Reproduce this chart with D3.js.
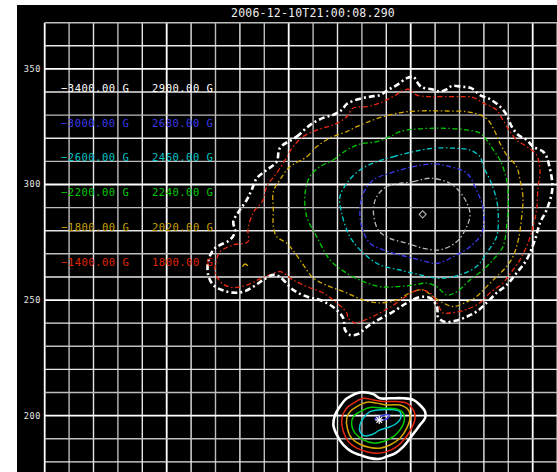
<!DOCTYPE html>
<html>
<head>
<meta charset="utf-8">
<script src="https://cdn.jsdelivr.net/npm/d3@7"></script>
<style>
body { margin: 0; background: #fff; }
text { font-family: "DejaVu Sans Mono", "Liberation Mono", monospace; }
</style>
</head>
<body>
<svg id="chart" width="557" height="472"></svg>
<script>
// ---- data ----
const title = "2006-12-10T21:00:08.290"
const yTicks = [350, 300, 250, 200]
const negLevels = [-3400, -3000, -2600, -2200, -1800, -1400]
const posLevels = [2900, 2680, 2460, 2240, 2020, 1800]

// big (negative) spot, outer boundary
const bigOuter = [[96.4,315.8],[103.3,320.7],[108.7,325.7],[114.1,328.8],[118.2,330.1],[121.7,332.2],[123.8,334.8],[128.4,336.9],[133.3,338.0],[137.4,338.7],[140.7,340.9],[144.3,343.0],[148.4,346.0],[151.1,346.6],[152.5,344.5],[154.5,342.1],[158.6,341.2],[162.0,340.2],[164.8,341.2],[166.8,342.6],[170.9,342.3],[175.0,341.6],[178.4,338.7],[182.5,336.9],[186.6,333.7],[189.3,330.1],[191.4,325.0],[194.1,321.4],[197.5,319.3],[200.2,316.4],[204.3,314.2],[205.7,312.0],[206.7,308.4],[207.9,302.0],[207.9,296.8],[205.7,289.0],[203.0,283.4],[200.9,276.0],[197.5,267.4],[193.4,261.7],[189.3,256.5],[185.2,253.1],[181.1,248.8],[177.0,245.0],[173.0,242.8],[168.2,241.0],[164.1,240.5],[161.2,242.7],[160.8,247.0],[157.9,250.9],[153.8,251.3],[148.5,248.8],[142.7,244.9],[136.6,241.4],[132.1,238.4],[128.4,235.3],[125.1,234.9],[123.1,237.1],[122.3,242.3],[118.2,247.0],[112.8,250.0],[107.4,251.5],[101.8,254.4],[96.4,260.0],[93.7,260.9],[89.6,258.7],[85.5,255.8],[81.4,253.6],[77.3,253.2],[73.2,254.1],[69.1,256.5],[67.0,260.9],[67.0,266.6],[69.1,271.7],[71.8,273.8],[75.9,276.0],[78.0,279.6],[77.3,283.9],[80.0,289.0],[82.8,293.3],[84.8,297.6],[86.9,302.7],[91.0,306.3],[95.1,309.9]]

// big spot level contours, order follows negLevels
const bigW = [[140.2,299.1],[151.1,301.2],[157.9,302.7],[166.1,300.5],[171.6,294.7],[174.3,287.6],[173.0,281.8],[168.9,275.3],[162.0,271.7],[155.2,272.4],[148.4,274.6],[141.5,276.7],[136.7,280.3],[134.7,289.0],[136.1,294.7]]
const bigB = [[134.7,302.0],[141.5,304.9],[151.1,307.7],[159.3,308.9],[166.1,307.7],[173.0,304.9],[177.0,297.6],[179.8,289.0],[179.1,278.9],[174.3,273.1],[167.5,268.8],[160.7,265.9],[153.8,267.4],[145.6,269.5],[138.8,271.7],[133.3,274.6],[129.9,281.8],[129.2,289.0],[130.6,296.2]]
const bigC = [[136.1,309.9],[142.9,312.0],[151.1,314.2],[159.3,315.7],[167.5,315.7],[174.3,314.9],[178.4,312.0],[179.8,307.7],[182.5,302.0],[185.2,293.3],[185.9,286.1],[185.2,277.4],[181.1,270.3],[177.0,264.5],[170.2,260.9],[162.0,259.4],[153.8,260.9],[145.6,263.0],[137.4,265.2],[130.6,270.3],[125.1,277.4],[121.7,287.6],[121.0,294.7],[123.8,300.5],[129.2,306.3]]
const bigG = [[112.8,307.7],[118.2,310.6],[123.8,314.9],[129.2,317.5],[136.1,318.5],[141.5,320.7],[145.6,322.9],[151.1,323.9],[157.9,324.3],[164.8,324.3],[173.0,323.6],[178.4,322.2],[181.1,319.3],[183.9,314.9],[186.6,310.6],[189.3,302.0],[190.0,293.3],[189.3,281.8],[187.8,273.1],[183.7,267.4],[179.6,263.0],[174.3,258.7],[168.9,253.6],[164.8,252.2],[160.7,255.8],[156.6,257.3],[151.1,256.5],[144.3,255.8],[137.4,255.8],[130.6,258.0],[123.8,261.6],[116.9,267.4],[111.5,277.4],[107.4,286.1],[106.7,296.2],[108.7,303.4]]
const bigY = [[100.5,307.7],[107.4,312.0],[111.5,316.4],[116.9,320.1],[123.8,322.9],[127.9,325.0],[134.5,327.9],[141.5,330.1],[148.4,331.5],[156.6,331.9],[164.8,331.8],[173.0,331.5],[178.4,330.1],[181.7,327.9],[184.5,322.9],[186.6,317.8],[189.3,312.8],[193.4,307.7],[194.8,302.0],[196.0,294.7],[195.5,286.1],[194.1,276.0],[191.9,268.8],[189.3,264.5],[185.2,260.1],[181.1,255.8],[177.0,251.5],[172.3,248.8],[167.3,247.2],[163.2,248.8],[159.1,251.5],[155.0,254.4],[149.7,253.1],[144.3,250.0],[137.4,248.8],[130.5,250.0],[123.8,253.1],[116.9,255.8],[110.0,259.6],[104.6,267.4],[99.2,274.6],[95.1,277.4],[93.7,281.8],[93.7,289.0],[93.7,296.9],[96.4,302.0]]
const bigR = [[101.8,316.4],[105.9,320.7],[110.0,322.9],[114.1,324.5],[118.2,325.7],[123.8,329.3],[126.4,333.1],[132.0,333.7],[137.4,335.3],[142.7,338.0],[148.9,341.2],[152.5,338.7],[157.9,338.0],[163.2,338.0],[170.2,338.0],[175.5,337.7],[179.6,335.3],[185.2,332.2],[187.8,327.9],[190.7,322.9],[193.4,319.3],[197.5,316.4],[201.6,312.8],[203.0,304.9],[202.2,299.1],[201.6,289.0],[200.1,281.8],[198.1,274.7],[194.8,267.4],[191.9,263.0],[187.8,257.4],[182.5,253.1],[178.4,248.8],[172.3,245.7],[166.1,244.4],[163.2,244.4],[161.2,247.9],[157.9,253.1],[153.0,254.4],[147.7,251.3],[142.3,247.4],[136.6,244.0],[131.3,241.4],[127.2,240.1],[124.3,242.3],[123.8,244.4],[119.7,248.8],[114.1,253.1],[107.4,255.8],[101.8,258.7],[96.4,262.3],[92.3,260.9],[87.4,258.7],[82.8,256.5],[77.2,255.4],[72.5,257.4],[69.8,262.3],[70.5,267.4],[71.8,270.9],[77.2,273.8],[83.3,275.3],[83.3,280.3],[85.4,287.7],[89.5,293.3],[91.0,299.1],[95.1,305.0],[98.5,310.6]]
const bigYBlob = [[81.0,264.4],[82.1,265.6],[83.3,264.8]]
const bigCenter = [154.9, 287.1]

// small (positive) spot, outer boundary and level contours
const smOuter = [[123.1,206.8],[125.1,208.2],[127.9,209.7],[130.6,210.1],[134.7,209.3],[137.4,207.5],[141.5,207.5],[147.0,207.5],[151.1,206.8],[153.8,204.6],[155.9,201.7],[155.9,198.9],[153.8,196.0],[151.8,193.1],[149.7,190.2],[147.0,186.6],[143.6,183.7],[140.2,182.3],[137.4,181.3],[133.3,181.6],[129.2,183.0],[125.8,184.4],[122.4,187.3],[119.7,191.7],[118.3,196.0],[119.0,200.3],[121.0,203.9]]
const smB = [[135.4,198.6],[138.2,199.9],[141.1,200.3],[140.7,199.0],[137.8,198.1]]
const smC = [[129.2,196.0],[130.6,198.9],[133.3,201.7],[137.4,202.5],[142.9,202.5],[145.6,201.7],[145.9,198.9],[144.3,196.7],[141.5,195.2],[137.4,193.8],[134.0,191.7],[130.6,191.4],[129.2,193.1]]
const smG = [[126.5,199.6],[129.2,201.7],[133.3,203.5],[138.8,203.2],[144.3,202.9],[147.0,201.0],[147.3,197.4],[145.6,193.8],[142.9,190.9],[138.8,188.8],[134.7,188.1],[130.6,189.5],[127.2,192.4],[125.8,196.0]]
const smY = [[125.1,201.7],[127.9,203.9],[132.0,205.8],[136.1,205.4],[140.2,204.6],[145.6,204.6],[149.0,202.5],[149.7,198.9],[148.4,194.6],[145.6,190.2],[141.5,187.3],[137.4,185.9],[133.3,186.2],[129.2,187.6],[125.8,190.2],[124.0,194.6],[123.8,198.9]]
const smR = [[124.4,203.9],[126.5,205.4],[130.6,207.5],[134.7,206.8],[138.8,206.1],[144.3,206.1],[148.4,205.4],[151.1,202.5],[151.8,198.9],[150.4,194.6],[147.7,190.2],[144.3,186.6],[140.2,184.4],[136.1,183.7],[132.0,184.4],[127.9,185.9],[124.4,188.8],[122.4,193.1],[121.7,197.4],[122.4,201.0]]
const smCenter = [137.1, 198.1]

const bigLevels = [bigW, bigB, bigC, bigG, bigY, bigR]
const smLevels = [null, smB, smC, smG, smY, smR]

// ---- style ----
const levelColors = ['#ffffff', '#3c3cf4', '#00ccd0', '#00cc00', '#d4a800', '#e8280e']
const textColors = ['#ffffff', '#3a3ae8', '#00c4c4', '#00c800', '#c8a000', '#e02400']
const legendX = [61, 152]
const legendY0 = 92, legendDy = 34.7

const svg = d3.select('#chart')

// black panel
svg.append('rect').attr('x', 17).attr('y', 5).attr('width', 540).attr('height', 467).attr('fill', '#000')

const x = d3.scaleLinear().domain([0, 210]).range([44.7, 557.1])
const y = d3.scaleLinear().domain([370, 175.6]).range([22.7, 472])

// grid
const grid = svg.append('g')
for (let v of d3.range(0, 211, 10)) {
	let major = v % 50 == 0
	grid.append('line')
		.attr('x1', x(v)).attr('x2', x(v)).attr('y1', y(370)).attr('y2', 472)
		.attr('stroke', major ? '#ffffff' : ((v / 10) % 2 ? '#bdbdbd' : '#e6e6e6'))
		.attr('stroke-width', major ? 1.8 : 1.4)
}
for (let v of d3.range(180, 371, 10)) {
	let major = v % 50 == 0
	grid.append('line')
		.attr('x1', x(0)).attr('x2', 557).attr('y1', y(v)).attr('y2', y(v))
		.attr('stroke', major ? '#ffffff' : ((v / 10) % 2 ? '#bdbdbd' : '#e6e6e6'))
		.attr('stroke-width', major ? 1.8 : 1.4)
}

// y tick labels
svg.append('g').selectAll('text').data(yTicks).join('text')
	.attr('x', 41).attr('y', d => y(d) + 3)
	.attr('text-anchor', 'end')
	.attr('fill', '#e8e8e8')
	.attr('font-size', 8.5).attr('letter-spacing', 0.6)
	.text(d => d)

// title
svg.append('text')
	.attr('x', 313).attr('y', 16.5)
	.attr('text-anchor', 'middle')
	.attr('fill', '#eeeeee')
	.attr('font-size', 11.5).attr('letter-spacing', 0.2)
	.text(title)

// contours
const line = d3.line().x(d => x(d[0])).y(d => y(d[1])).curve(d3.curveCatmullRomClosed.alpha(0.5))
const openLine = d3.line().x(d => x(d[0])).y(d => y(d[1])).curve(d3.curveCatmullRom)
const dashDot = '5,2.5,1.5,2.5'
const cg = svg.append('g').attr('fill', 'none')

bigLevels.forEach((c, i) => {
	cg.append('path').attr('d', line(c))
		.attr('stroke', i == 0 ? '#b8b8b8' : levelColors[i])
		.attr('stroke-width', 1.3)
		.attr('stroke-dasharray', dashDot)
})
cg.append('path').attr('d', openLine(bigYBlob))
	.attr('stroke', levelColors[4]).attr('stroke-width', 1.3)
cg.append('path').attr('d', line(bigOuter))
	.attr('stroke', '#ffffff').attr('stroke-width', 2.6)
	.attr('stroke-dasharray', '6,3,2,3')

smLevels.forEach((c, i) => {
	if (!c) return
	cg.append('path').attr('d', line(c))
		.attr('stroke', levelColors[i]).attr('stroke-width', 1.5)
})
cg.append('path').attr('d', line(smOuter))
	.attr('stroke', '#ffffff').attr('stroke-width', 2.6)

// centre markers
let bx = x(bigCenter[0]), by = y(bigCenter[1])
cg.append('path').attr('d', `M${bx - 3.5},${by}L${bx},${by - 3.5}L${bx + 3.5},${by}L${bx},${by + 3.5}Z`)
	.attr('stroke', '#aaaaaa').attr('stroke-width', 1.2)
let sx = x(smCenter[0]), sy = y(smCenter[1])
for (let a of [0, 45, 90, 135]) {
	let r = 4, t = a * Math.PI / 180
	cg.append('line')
		.attr('x1', sx - r * Math.cos(t)).attr('y1', sy - r * Math.sin(t))
		.attr('x2', sx + r * Math.cos(t)).attr('y2', sy + r * Math.sin(t))
		.attr('stroke', '#ffffff').attr('stroke-width', 1.2)
}

// legend
const fmt = d3.format('.2f')
const legend = svg.append('g').attr('font-size', 10.5).attr('letter-spacing', 0.5)
negLevels.forEach((lv, i) => {
	legend.append('text').attr('x', legendX[0]).attr('y', legendY0 + i * legendDy)
		.attr('fill', textColors[i]).text(fmt(lv) + ' G')
})
posLevels.forEach((lv, i) => {
	legend.append('text').attr('x', legendX[1]).attr('y', legendY0 + i * legendDy)
		.attr('fill', textColors[i]).text(fmt(lv) + ' G')
})
</script>
</body>
</html>
